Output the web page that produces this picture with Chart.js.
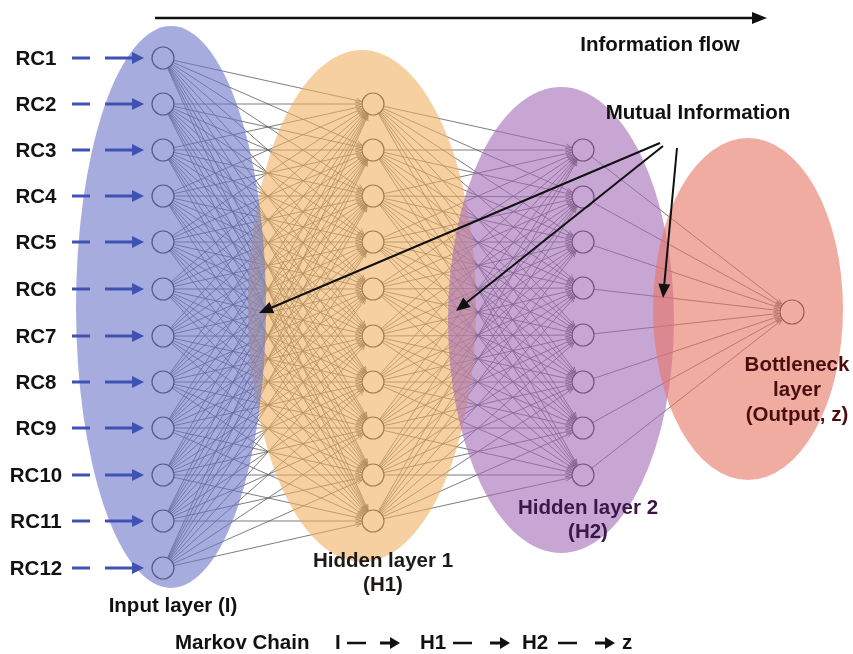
<!DOCTYPE html>
<html>
<head>
<meta charset="utf-8">
<script src="https://cdn.jsdelivr.net/npm/chart.js@4.4.1/dist/chart.umd.min.js"></script>
<style>
  html, body { margin: 0; padding: 0; background: #fff; }
  #wrap { width: 853px; height: 654px; position: relative; }
</style>
</head>
<body>
<div id="wrap"><canvas id="net"></canvas></div>
<script>
// layers of the network (diagram units, 1 unit = 1 px on the 853x654 page)
const layerNames = ['Input layer (I)', 'Hidden layer 1', 'Hidden layer 2', 'Bottleneck layer'];
const layerX = [163, 373, 583, 792];
const inputY = [58, 104, 150, 196, 242, 289, 336, 382, 428, 475, 521, 568];
const hidden1Y = [104, 150, 196, 242, 289, 336, 382, 428, 475, 521];
const hidden2Y = [150, 197, 242, 288, 335, 382, 428, 475];
const outputY = [312];
const inputLabels = ['RC1', 'RC2', 'RC3', 'RC4', 'RC5', 'RC6', 'RC7', 'RC8', 'RC9', 'RC10', 'RC11', 'RC12'];
const markovChain = ['I', 'H1', 'H2', 'z'];

const layersY = [inputY, hidden1Y, hidden2Y, outputY];
const nodeR = 11;

// shaded regions behind each layer: cx, cy, rx, ry, colour (drawn with alpha)
const regions = [
  { cx: 362, cy: 306, rx: 114, ry: 256, color: 'rgb(240,177,97)' },
  { cx: 171, cy: 307, rx: 95, ry: 281, color: 'rgb(107,117,200)' },
  { cx: 561, cy: 320, rx: 113, ry: 233, color: 'rgb(163,107,183)' },
  { cx: 748, cy: 309, rx: 95, ry: 171, color: 'rgb(232,117,100)' }
];

function edgeData(xa, ya, xb, yb) {
  const d = [];
  ya.forEach(a => {
    yb.forEach(b => {
      d.push({ x: xa, y: a }, { x: xb, y: b }, { x: null, y: null });
    });
  });
  return d;
}

const EDGE = '#5c5c5c';
const datasets = [];
for (let l = 0; l < layersY.length - 1; l++) {
  datasets.push({
    type: 'scatter',
    data: edgeData(layerX[l], layersY[l], layerX[l + 1], layersY[l + 1]),
    showLine: true,
    spanGaps: false,
    borderColor: EDGE,
    borderWidth: 0.8,
    pointRadius: 0,
    order: 1
  });
}
layersY.forEach((ys, l) => {
  datasets.push({
    type: 'scatter',
    data: ys.map(y => ({ x: layerX[l], y: y })),
    pointRadius: l === 3 ? nodeR + 1 : nodeR,
    pointBackgroundColor: '#ffffff',
    pointBorderColor: '#333333',
    pointBorderWidth: 1.2,
    order: 0
  });
});

const FONT = 'bold 20.5px "Liberation Sans", Arial, sans-serif';

function arrow(ctx, x1, y1, x2, y2, w, len, half, color) {
  const a = Math.atan2(y2 - y1, x2 - x1);
  const bx = x2 - len * Math.cos(a), by = y2 - len * Math.sin(a);
  ctx.strokeStyle = color;
  ctx.fillStyle = color;
  ctx.lineWidth = w;
  ctx.beginPath();
  ctx.moveTo(x1, y1);
  ctx.lineTo(bx, by);
  ctx.stroke();
  ctx.beginPath();
  ctx.moveTo(x2, y2);
  ctx.lineTo(bx + half * Math.sin(a), by - half * Math.cos(a));
  ctx.lineTo(bx - half * Math.sin(a), by + half * Math.cos(a));
  ctx.closePath();
  ctx.fill();
}

const diagramPlugin = {
  id: 'diagram',
  afterDatasetsDraw(chart) {
    const ctx = chart.ctx;
    const sx = v => chart.scales.x.getPixelForValue(v);
    const sy = v => chart.scales.y.getPixelForValue(v);
    ctx.save();

    // small arrow heads where every edge meets its target node
    ctx.strokeStyle = EDGE;
    ctx.lineWidth = 0.8;
    for (let l = 0; l < layersY.length - 1; l++) {
      const r = l === 2 ? nodeR + 1 : nodeR;
      layersY[l].forEach(a => {
        layersY[l + 1].forEach(b => {
          const x1 = sx(layerX[l]), y1 = sy(a), x2 = sx(layerX[l + 1]), y2 = sy(b);
          const ang = Math.atan2(y2 - y1, x2 - x1);
          const tx = x2 - (r + 1) * Math.cos(ang), ty = y2 - (r + 1) * Math.sin(ang);
          ctx.beginPath();
          ctx.moveTo(tx - 6 * Math.cos(ang - 0.4), ty - 6 * Math.sin(ang - 0.4));
          ctx.lineTo(tx, ty);
          ctx.lineTo(tx - 6 * Math.cos(ang + 0.4), ty - 6 * Math.sin(ang + 0.4));
          ctx.stroke();
        });
      });
    }

    // shaded layer regions
    ctx.globalAlpha = 0.6;
    regions.forEach(g => {
      ctx.fillStyle = g.color;
      ctx.beginPath();
      ctx.ellipse(sx(g.cx), sy(g.cy), g.rx, g.ry, 0, 0, Math.PI * 2);
      ctx.fill();
    });
    ctx.globalAlpha = 1;

    // inputs
    ctx.font = FONT;
    ctx.textAlign = 'center';
    ctx.textBaseline = 'middle';
    inputLabels.forEach((lab, i) => {
      const y = sy(inputY[i]);
      ctx.fillStyle = '#111';
      ctx.fillText(lab, 36, y + 1);
      ctx.strokeStyle = '#3f52b4';
      ctx.lineWidth = 3;
      ctx.beginPath();
      ctx.moveTo(72, y); ctx.lineTo(90, y);
      ctx.stroke();
      arrow(ctx, 105, y, 144, y, 3, 12, 6, '#3f52b4');
    });

    // layer captions
    ctx.fillStyle = '#111';
    ctx.fillText(layerNames[0], 173, 606);
    ctx.fillStyle = '#1c1a16';
    ctx.fillText(layerNames[1], 383, 561);
    ctx.fillText('(H1)', 383, 585);
    ctx.fillStyle = '#3b1748';
    ctx.fillText(layerNames[2], 588, 508);
    ctx.fillText('(H2)', 588, 532);
    ctx.fillStyle = '#4a0e0e';
    ctx.fillText('Bottleneck', 797, 365);
    ctx.fillText('layer', 797, 390);
    ctx.fillText('(Output, z)', 797, 415);

    // information flow
    arrow(ctx, 155, 18, 767, 18, 2.5, 15, 6, '#111');
    ctx.fillStyle = '#111';
    ctx.fillText('Information flow', 660, 45);

    // mutual information pointers
    ctx.fillText('Mutual Information', 698, 113);
    arrow(ctx, 660, 143, 259, 313, 2, 14, 6, '#111');
    arrow(ctx, 663, 146, 456, 311, 2, 14, 6, '#111');
    arrow(ctx, 677, 148, 663, 298, 2, 14, 6, '#111');

    // Markov chain
    ctx.fillStyle = '#111';
    ctx.textAlign = 'left';
    ctx.fillText('Markov Chain', 175, 643);
    const chainX = [335, 420, 522, 622];
    const dashX = [347, 453, 558];
    const headX = [400, 510, 615];
    markovChain.forEach((t, i) => {
      ctx.fillStyle = '#111';
      ctx.fillText(t, chainX[i], 643);
      if (i < markovChain.length - 1) {
        ctx.strokeStyle = '#111';
        ctx.lineWidth = 2.5;
        ctx.beginPath();
        ctx.moveTo(dashX[i], 643); ctx.lineTo(dashX[i] + 19, 643);
        ctx.stroke();
        arrow(ctx, headX[i] - 20, 643, headX[i], 643, 3, 10, 6, '#111');
      }
    });
    ctx.restore();
  }
};

new Chart(document.getElementById('net'), {
  type: 'scatter',
  data: { datasets: datasets },
  options: {
    responsive: true,
    maintainAspectRatio: false,
    animation: false,
    layout: { padding: 0, autoPadding: false },
    plugins: { legend: { display: false }, tooltip: { enabled: false } },
    scales: {
      x: { type: 'linear', min: 0, max: 853, display: false },
      y: { type: 'linear', min: 0, max: 654, reverse: true, display: false }
    }
  },
  plugins: [diagramPlugin]
});
</script>
</body>
</html>
